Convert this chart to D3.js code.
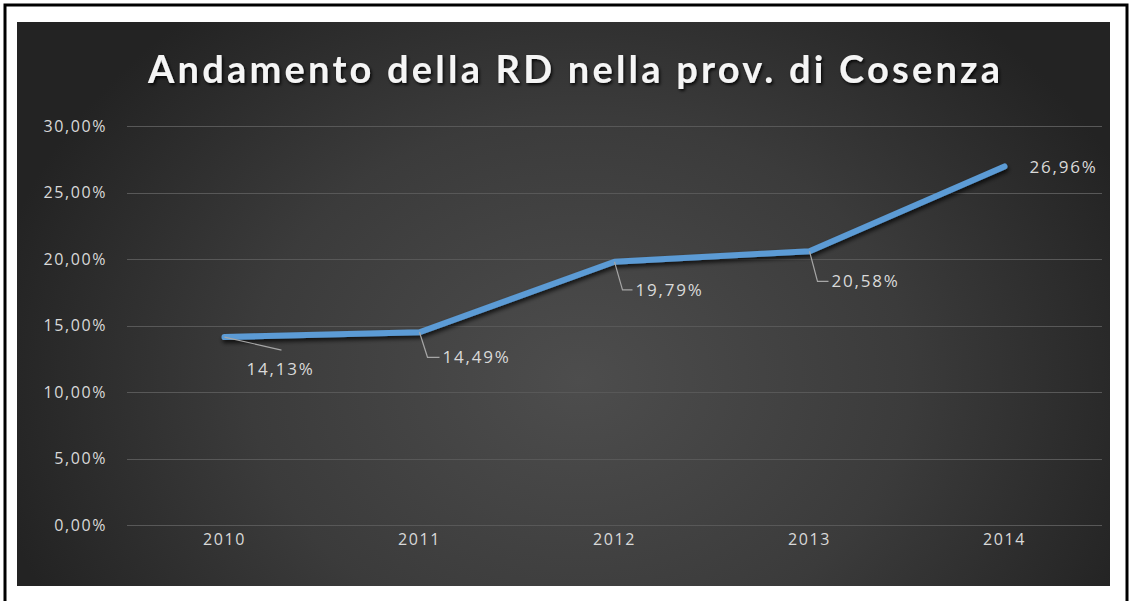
<!DOCTYPE html>
<html>
<head>
<meta charset="utf-8">
<script src="https://cdn.jsdelivr.net/npm/d3@7"></script>
<style>
  html, body { margin: 0; padding: 0; background: #ffffff; }
  svg { display: block; }
</style>
</head>
<body>
<svg id="chart" width="1132" height="601"></svg>
<script>
// Raccolta differenziata, provincia di Cosenza
const years = ["2010", "2011", "2012", "2013", "2014"];
const rdValues = [14.13, 14.49, 19.79, 20.58, 26.96];
const yTicks = [0, 5, 10, 15, 20, 25, 30];
const titleText = "Andamento della RD nella prov. di Cosenza";

// label placement relative to each point: [dx, dy] of the label baseline, leader style
const labelPlacement = [
  { dx: 22, dy: 38, leader: "diag" },
  { dx: 23, dy: 31, leader: "elbow" },
  { dx: 21, dy: 34, leader: "elbow" },
  { dx: 22, dy: 36, leader: "elbow" },
  { dx: 25, dy: 7,  leader: "none" }
];

const fmtPct = v => v.toFixed(2).replace(".", ",") + "%";
const labelFont = "'Open Sans', 'DejaVu Sans', sans-serif";

const svg = d3.select("#chart");

const defs = svg.append("defs");
const grad = defs.append("radialGradient")
  .attr("id", "bg")
  .attr("gradientUnits", "userSpaceOnUse")
  .attr("cx", 580).attr("cy", 380).attr("r", 600)
  .attr("gradientTransform", "translate(580,380) scale(1,0.8) translate(-580,-380)");
grad.append("stop").attr("offset", "0%").attr("stop-color", "#4d4d4d");
grad.append("stop").attr("offset", "55%").attr("stop-color", "#3b3b3b");
grad.append("stop").attr("offset", "100%").attr("stop-color", "#232323");

const shadow = defs.append("filter").attr("id", "lineShadow")
  .attr("x", "-10%").attr("y", "-20%").attr("width", "120%").attr("height", "140%");
shadow.append("feDropShadow")
  .attr("dx", 1).attr("dy", 3).attr("stdDeviation", 2.2)
  .attr("flood-color", "#000000").attr("flood-opacity", 0.75);

const titleShadow = defs.append("filter").attr("id", "titleShadow")
  .attr("x", "-5%").attr("y", "-30%").attr("width", "110%").attr("height", "160%");
titleShadow.append("feDropShadow")
  .attr("dx", 1.5).attr("dy", 2).attr("stdDeviation", 1.5)
  .attr("flood-color", "#000000").attr("flood-opacity", 0.85);

// outer frame (open at the bottom edge of the page)
svg.append("rect")
  .attr("x", 5).attr("y", 5).attr("width", 1122).attr("height", 610)
  .attr("fill", "#ffffff").attr("stroke", "#000000").attr("stroke-width", 3);

// chart area
svg.append("rect")
  .attr("x", 17).attr("y", 22).attr("width", 1093).attr("height", 564)
  .attr("fill", "url(#bg)");

const plot = { left: 127, right: 1102, top: 126, bottom: 525 };

const x = d3.scaleBand().domain(years).range([plot.left, plot.right]).padding(0);
const xc = d => x(d) + x.bandwidth() / 2;
const y = d3.scaleLinear().domain([0, 30]).range([plot.bottom, plot.top]);

// gridlines
svg.append("g")
  .selectAll("line")
  .data(yTicks)
  .join("line")
  .attr("x1", plot.left).attr("x2", plot.right)
  .attr("y1", d => Math.round(y(d)) + 0.5).attr("y2", d => Math.round(y(d)) + 0.5)
  .attr("stroke", "#585858").attr("stroke-width", 1);

const styleAxisText = g => g.selectAll("text")
  .attr("fill", "#d9d9d9")
  .style("font-family", labelFont)
  .style("font-size", "16px")
  .style("letter-spacing", "1.6px");

// y axis labels
const yAxis = d3.axisLeft(y).tickValues(yTicks).tickSize(0).tickPadding(0)
  .tickFormat(d => fmtPct(d));
svg.append("g")
  .attr("transform", `translate(${plot.left - 20},0)`)
  .call(yAxis)
  .call(g => g.select(".domain").remove())
  .call(styleAxisText);

// x axis labels
const xAxis = d3.axisBottom(x).tickSize(0).tickPadding(0);
svg.append("g")
  .attr("transform", `translate(0,${plot.bottom + 9})`)
  .call(xAxis)
  .call(g => g.select(".domain").remove())
  .call(styleAxisText);

// title
svg.append("text")
  .attr("x", 574).attr("y", 83)
  .attr("text-anchor", "middle")
  .attr("fill", "#f5f5f5")
  .attr("filter", "url(#titleShadow)")
  .style("font-family", "Lato, 'Open Sans', sans-serif")
  .style("font-weight", "700")
  .style("font-size", "38px")
  .attr("textLength", 852)
  .attr("lengthAdjust", "spacing")
  .text(titleText);

// series line
const line = d3.line().x((d, i) => xc(years[i])).y(d => y(d));
svg.append("path")
  .datum(rdValues)
  .attr("d", line)
  .attr("fill", "none")
  .attr("stroke", "#5b9bd5")
  .attr("stroke-width", 6)
  .attr("stroke-linecap", "round")
  .attr("stroke-linejoin", "round")
  .attr("filter", "url(#lineShadow)");

// data labels with leader lines
const labels = svg.append("g");
rdValues.forEach((v, i) => {
  const px = xc(years[i]), py = y(v);
  const p = labelPlacement[i];
  const lx = px + p.dx, ly = py + p.dy;
  if (p.leader === "elbow") {
    labels.append("path")
      .attr("d", `M${px},${py} L${px + 8},${ly - 6} L${lx - 3},${ly - 6}`)
      .attr("fill", "none").attr("stroke", "#a6a6a6").attr("stroke-width", 1.2);
  } else if (p.leader === "diag") {
    labels.append("path")
      .attr("d", `M${px},${py} L${px + 57},${py + 13}`)
      .attr("fill", "none").attr("stroke", "#a6a6a6").attr("stroke-width", 1.2);
  }
  labels.append("text")
    .attr("x", lx).attr("y", ly)
    .attr("fill", "#d9d9d9")
    .style("font-family", labelFont)
    .style("font-size", "17px")
    .style("letter-spacing", "1.8px")
    .text(fmtPct(v));
});
</script>
</body>
</html>
